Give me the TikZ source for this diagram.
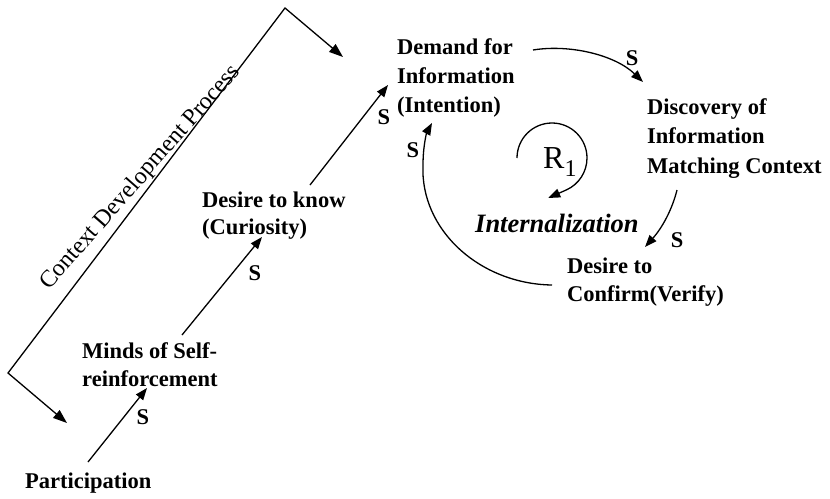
\documentclass[tikz,border=0pt]{standalone}
\usepackage{fontspec}
\setmainfont{Liberation Serif}
\usetikzlibrary{arrows.meta}

\tikzset{
  lbl/.style={font=\bfseries\fontsize{22.5}{28.5}\selectfont, align=left, inner sep=0pt, anchor=north west},
  sgn/.style={font=\bfseries\fontsize{22.5}{26}\selectfont, inner sep=0pt},
  arr/.style={-{Triangle[length=12pt,width=9pt]}, line width=1.3pt},
  ctx/.style={{Triangle[length=14pt,width=10pt]}-{Triangle[length=14pt,width=10pt]}, line width=1.3pt, line join=miter}
}

\begin{document}
\begin{tikzpicture}[x=1pt, y=-1pt]
\useasboundingbox (0,0) rectangle (830,498);

% factor nodes
\node[lbl] (part) at (25,473) {Participation};
\node[lbl, font=\bfseries\fontsize{22.5}{28}\selectfont] (minds) at (82,342) {Minds of Self-\\reinforcement};
\node[lbl, font=\bfseries\fontsize{22.5}{26.5}\selectfont] (curio) at (202,192) {Desire to know\\(Curiosity)};
\node[lbl, font=\bfseries\fontsize{22.5}{29}\selectfont] (demand) at (397,38) {Demand for\\Information\\(Intention)};
\node[lbl, font=\bfseries\fontsize{22.5}{29.5}\selectfont] (disc) at (647,98) {Discovery of\\Information\\Matching Context};
\node[lbl, font=\bfseries\fontsize{22.5}{27.5}\selectfont] (confirm) at (567,258) {Desire to\\Confirm(Verify)};

% loop name and polarity
\node[inner sep=0pt, anchor=base west, font=\fontsize{32}{32}\selectfont] (r1) at (543,168)
  {R\raisebox{-8pt}{\fontsize{24}{24}\selectfont 1}};
\node[inner sep=0pt, anchor=base west, font=\bfseries\itshape\fontsize{26.5}{30}\selectfont] (intern) at (475,232) {Internalization};

% context development process bracket
\coordinate (cl) at (8,373);
\coordinate (ct) at (285,8);
\draw[ctx] ([shift={(42,-50)}]part.north west) -- (cl) -- (ct) -- ([shift={(-54,19)}]demand.north west);
\node[inner sep=0pt, anchor=base, rotate=48.8, font=\fontsize{24}{24}\selectfont] (cdp) at (145,181.5) {Context Development Process};

% chain of positive links
\draw[arr] ([shift={(63,-11)}]part.north west) -- ([shift={(65,46)}]minds.north west);
\draw[arr] ([shift={(100,-7)}]minds.north west) -- ([shift={(60,45)}]curio.north west);
\draw[arr] ([shift={(108,-7)}]curio.north west) -- ([shift={(-9,47)}]demand.north west);

% reinforcing loop
\draw[arr] ([shift={(136,12)}]demand.north west) .. controls (570,44) and (615,55) .. ([shift={(-4,-16)}]disc.north west);
\draw[arr] ([shift={(30,92)}]disc.north west) .. controls (672,210) and (662,228) .. ([shift={(78,-11)}]confirm.north west);
\draw[arr] ([shift={(-15,27)}]confirm.north west) .. controls (480,284) and (420,230) .. (423,165)
  .. controls (423,145) and (427,132) .. ([shift={(35,85)}]demand.north west);

% loop direction marker
\draw[arr] (517,158) arc[start angle=180, end angle=426, radius=35] -- ++(-18,8);

% link polarities
\node[sgn] (s1) at (143,417) {S};
\node[sgn] (s2) at (255,273) {S};
\node[sgn] (s3) at (384,117) {S};
\node[sgn] (s4) at (632,58) {S};
\node[sgn] (s5) at (677,240) {S};
\node[sgn] (s6) at (413,150) {S};
\end{tikzpicture}
\end{document}
